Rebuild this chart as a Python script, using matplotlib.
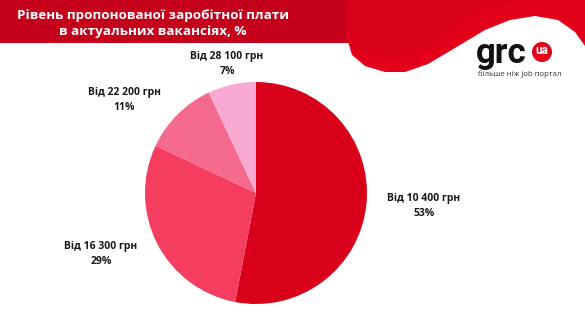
import matplotlib
matplotlib.use("Agg")
import matplotlib.pyplot as plt
from matplotlib.patches import Rectangle, Polygon, Circle

plt.rcParams["font.family"] = ["Open Sans", "DejaVu Sans"]

# data
categories = ["Від 10 400 грн", "Від 16 300 грн", "Від 22 200 грн", "Від 28 100 грн"]
shares = [53, 29, 11, 7]
colors = ["#d9001a", "#f43d5f", "#f36a8c", "#f8a9d2"]
title_lines = ["Рівень пропонованої заробітної плати", "в актуальних вакансіях, %"]

W, H = 585, 314
fig = plt.figure(figsize=(W / 100, H / 100), dpi=100)
fig.patch.set_facecolor("white")

# background layer in pixel coordinates
bg = fig.add_axes([0, 0, 1, 1])
bg.set_xlim(0, W)
bg.set_ylim(H, 0)
bg.axis("off")

bg.add_patch(Rectangle((0, 0), 352, 43, color="#c4001a", lw=0))

swoosh = [(345, 0), (347, 38), (352, 55), (365, 66), (385, 72), (405, 72),
          (428, 64), (455, 48), (485, 30), (510, 20), (535, 16), (558, 20),
          (575, 32), (585, 46), (585, 0)]
bg.add_patch(Polygon(swoosh, closed=True, color="#e2001a", lw=0))
inner = [(345, 0), (347, 30), (358, 48), (380, 58), (405, 56), (430, 44),
         (460, 22), (485, 8), (510, 0)]
bg.add_patch(Polygon(inner, closed=True, color="#d3001a", lw=0, alpha=0.6))

# logo
bg.text(476, 54, "grc", fontsize=25, fontweight="bold", color="#111111",
        ha="left", va="center", family=["Roboto", "DejaVu Sans"])
bg.add_patch(Circle((542, 52), 10, color="#e2001a", lw=0))
bg.text(542, 51, "ua", fontsize=8.5, fontweight="bold", color="white",
        ha="center", va="center", family=["Roboto", "DejaVu Sans"])
bg.text(520, 74, "більше ніж job портал", fontsize=5.6, color="#333333",
        ha="center", va="center")

# title
bg.text(153, 15, title_lines[0], fontsize=9.7, fontweight="bold", color="white",
        ha="center", va="center")
bg.text(153, 32, title_lines[1], fontsize=9.7, fontweight="bold", color="white",
        ha="center", va="center")

# pie
cx, cy, r = 256, 193, 111
ax = fig.add_axes([(cx - r) / W, (H - cy - r) / H, 2 * r / W, 2 * r / H])
ax.pie(shares, colors=colors, startangle=90, counterclock=False,
       radius=1, wedgeprops={"linewidth": 0})
ax.set_xlim(-1, 1)
ax.set_ylim(-1, 1)
ax.axis("off")

# labels
label_pos = [(424, 206), (101, 254), (124, 100), (227, 64)]
for name, val, (x, y) in zip(categories, shares, label_pos):
    bg.text(x, y, f"{name}\n{val}%", fontsize=7.5, fontweight="bold", color="#1a1a1a",
            ha="center", va="center", linespacing=1.5)

fig.savefig("out.png", dpi=100)
